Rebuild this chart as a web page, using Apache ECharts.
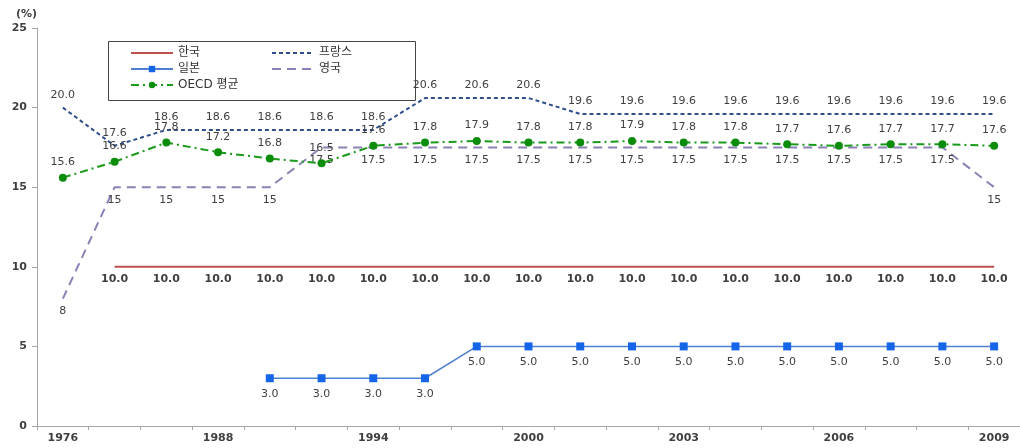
<!DOCTYPE html>
<html><head><meta charset="utf-8">
<script src="https://cdn.jsdelivr.net/npm/echarts@6/dist/echarts.min.js"></script>
<style>html,body{margin:0;padding:0;background:#fff}#c{width:1020px;height:448px}</style>
</head><body><div id="c"></div>
<script>
const years = ['1976','1980','1984','1988','1990','1992','1994','1996','1998','2000','2001','2002','2003','2004','2005','2006','2007','2008','2009'];
const korea = [null,10,10,10,10,10,10,10,10,10,10,10,10,10,10,10,10,10,10];
const france = [20,17.6,18.6,18.6,18.6,18.6,18.6,20.6,20.6,20.6,19.6,19.6,19.6,19.6,19.6,19.6,19.6,19.6,19.6];
const japan = [null,null,null,null,3,3,3,3,5,5,5,5,5,5,5,5,5,5,5];
const uk = [8,15,15,15,15,17.5,17.5,17.5,17.5,17.5,17.5,17.5,17.5,17.5,17.5,17.5,17.5,17.5,15];
const oecd = [15.6,16.6,17.8,17.2,16.8,16.5,17.6,17.8,17.9,17.8,17.8,17.9,17.8,17.8,17.7,17.6,17.7,17.7,17.6];
const yTicks = [0,5,10,15,20,25];

const F = 'Verdana, "DejaVu Sans", "Noto Sans CJK KR", sans-serif';
const lbl = (pos, fmt, bold) => ({show:true, position:pos, distance:6, fontSize:11, fontFamily:F, color:'#404040', fontWeight: bold?'bold':'normal', formatter: fmt});
const f1 = p => p.value == null ? '' : Number(p.value).toFixed(1);
const f0 = p => p.value == null ? '' : (Number.isInteger(p.value) ? String(p.value) : Number(p.value).toFixed(1));
const hideSym = {opacity:0};
const legText = {fontSize:12, fontFamily:F, color:'#333'};
const clear = 'rgba(0,0,0,0)';

const chart = echarts.init(document.getElementById('c'));
chart.setOption({
  animation:false,
  grid:{left:37, right:-6, top:28, bottom:22},
  legend:[
    {data:[{name:'한국', itemStyle:hideSym},'일본','OECD 평균'], orient:'vertical', left:125, top:42, itemWidth:42, itemHeight:8, itemGap:4, textStyle:legText},
    {data:[{name:'프랑스', itemStyle:hideSym},{name:'영국', itemStyle:hideSym}], orient:'vertical', left:266, top:42, itemWidth:42, itemHeight:8, itemGap:4, textStyle:legText}
  ],
  graphic:[{type:'rect', shape:{x:108.5, y:41.5, width:307, height:59}, style:{fill:'none', stroke:'#444', lineWidth:1}, z:100}],
  xAxis:{type:'category', data:years, boundaryGap:true,
    axisLine:{lineStyle:{color:'#a6a6a6'}},
    axisTick:{show:true, interval:0, length:4, lineStyle:{color:'#a6a6a6'}},
    axisLabel:{interval:2, fontSize:11, fontWeight:'bold', color:'#404040', fontFamily:F, margin:7}},
  yAxis:{type:'value', min:yTicks[0], max:yTicks[yTicks.length-1], interval:5,
    name:'(%)', nameLocation:'end', nameGap:8, nameTextStyle:{fontSize:11, fontWeight:'bold', color:'#404040', fontFamily:F, align:'right'},
    axisLine:{show:true, lineStyle:{color:'#a6a6a6'}},
    axisTick:{show:true, length:5, lineStyle:{color:'#a6a6a6'}},
    splitLine:{show:false},
    axisLabel:{fontSize:11, fontWeight:'bold', color:'#404040', fontFamily:F, margin:10}},
  series:[
    {name:'한국', type:'line', data:korea, symbol:'circle', symbolSize:2, showAllSymbol:true, itemStyle:{color:clear, borderWidth:0}, color:'#C0504D', lineStyle:{width:2, color:'#C0504D'},
     label:lbl('bottom', f1, true), z:3},
    {name:'프랑스', type:'line', data:france, symbol:'circle', symbolSize:2, showAllSymbol:true, itemStyle:{color:clear, borderWidth:0}, color:'#2F4F8A', lineStyle:{width:2, type:[4,3], color:'#2F4F8A'},
     label:lbl('top', f1, false), z:3},
    {name:'일본', type:'line', data:japan, symbol:'rect', symbolSize:8, showAllSymbol:true, color:'#1565E8', itemStyle:{color:'#1565E8'}, lineStyle:{width:1.5, color:'#4F81D0'},
     label:lbl('bottom', f1, false), z:4},
    {name:'영국', type:'line', data:uk, symbol:'circle', symbolSize:2, showAllSymbol:true, itemStyle:{color:clear, borderWidth:0}, color:'#8A82B6', lineStyle:{width:2, type:[9,6], color:'#8A82B6'},
     label:lbl('bottom', f0, false), z:2},
    {name:'OECD 평균', type:'line', data:oecd, symbol:'circle', symbolSize:8, showAllSymbol:true, color:'#0B8C0B', itemStyle:{color:'#0B8C0B'}, lineStyle:{width:2, type:[8,4,2,4], color:'#1A9A1A'},
     label:lbl('top', f1, false), z:5}
  ]
});
</script></body></html>
